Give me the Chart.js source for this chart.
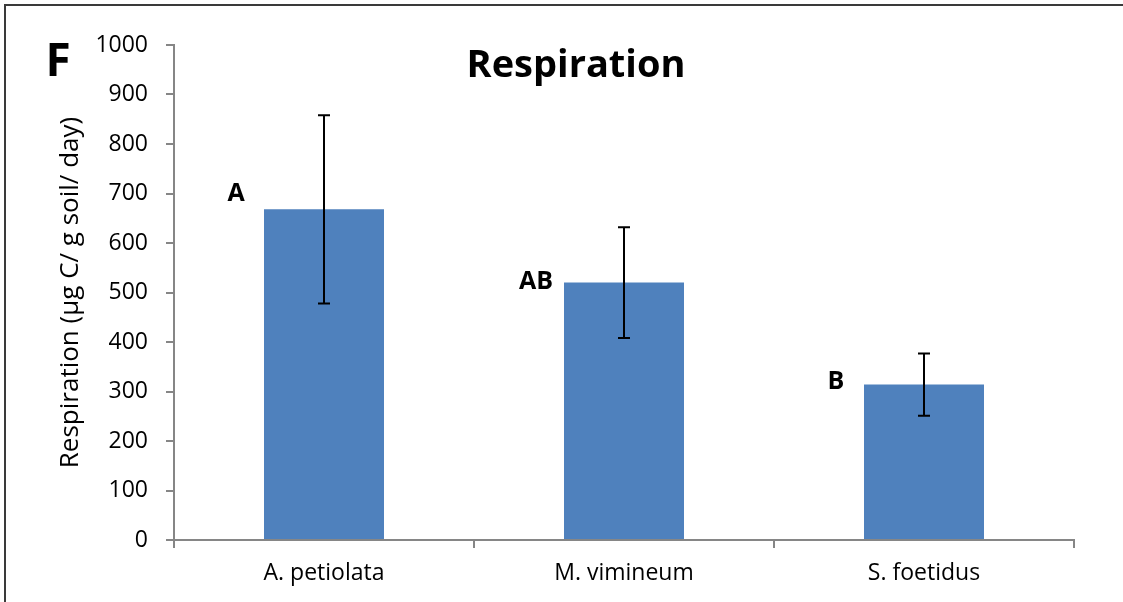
<!DOCTYPE html>
<html>
<head>
<meta charset="utf-8">
<script src="https://cdn.jsdelivr.net/npm/chart.js@4/dist/chart.umd.min.js"></script>
<style>
  html, body { margin: 0; padding: 0; background: #ffffff; }
  #wrap { width: 1123px; height: 602px; position: relative; }
</style>
</head>
<body>
<div id="wrap"><canvas id="chart" width="1123" height="602"></canvas></div>
<script>
// Soil respiration by invasive species (mean ± SE)
const species = ['A. petiolata', 'M. vimineum', 'S. foetidus'];
const respiration = [668, 520, 314];
const respirationSE = [190, 112, 63];
const groupLetters = ['A', 'AB', 'B'];
const groupLetterLevels = [700, 522, 320];
const yTickValues = [0, 100, 200, 300, 400, 500, 600, 700, 800, 900, 1000];
const yTickLabels = ['0', '100', '200', '300', '400', '500', '600', '700', '800', '900', '1000'];
const panelLetter = 'F';
const chartTitle = 'Respiration';
const yAxisTitle = 'Respiration (µg C/ g soil/ day)';

const FONT = '"Open Sans"';
const AXIS_GREY = '#868686';

// Frame, error bars, significance letters, title and panel letter
const decorations = {
  id: 'decorations',
  beforeDraw(chart) {
    const ctx = chart.ctx;
    ctx.save();
    ctx.fillStyle = '#ffffff';
    ctx.fillRect(0, 0, chart.width, chart.height);
    ctx.fillStyle = '#3a3a3a';
    ctx.fillRect(4, 4, chart.width - 4, 2);
    ctx.fillRect(4, 4, 2, chart.height - 4);
    ctx.restore();
  },
  afterDatasetsDraw(chart) {
    const ctx = chart.ctx;
    const y = chart.scales.y;
    const bars = chart.getDatasetMeta(0).data;
    ctx.save();
    // error bars
    ctx.strokeStyle = '#000000';
    ctx.lineWidth = 2;
    bars.forEach((bar, i) => {
      const x = Math.round(bar.x);
      const top = y.getPixelForValue(respiration[i] + respirationSE[i]);
      const bot = y.getPixelForValue(respiration[i] - respirationSE[i]);
      ctx.beginPath();
      ctx.moveTo(x, top); ctx.lineTo(x, bot);
      ctx.moveTo(x - 6, top); ctx.lineTo(x + 6, top);
      ctx.moveTo(x - 6, bot); ctx.lineTo(x + 6, bot);
      ctx.stroke();
    });
    // significance letters
    ctx.fillStyle = '#000000';
    ctx.font = `bold 25px ${FONT}`;
    ctx.textAlign = 'center';
    ctx.textBaseline = 'middle';
    bars.forEach((bar, i) => {
      ctx.fillText(groupLetters[i], bar.x - 88, y.getPixelForValue(groupLetterLevels[i]));
    });
    // title
    ctx.textBaseline = 'alphabetic';
    ctx.font = `bold 38px ${FONT}`;
    ctx.fillText(chartTitle, 576, 77);
    // panel letter
    ctx.font = `bold 46px ${FONT}`;
    ctx.fillText(panelLetter, 58, 76);
    ctx.restore();
  }
};

new Chart(document.getElementById('chart'), {
  type: 'bar',
  data: {
    labels: species,
    datasets: [{
      data: respiration,
      backgroundColor: '#4F81BD',
      borderWidth: 0,
      barPercentage: 0.4,
      categoryPercentage: 1.0
    }]
  },
  options: {
    responsive: false,
    animation: false,
    devicePixelRatio: 1,
    layout: { padding: { left: 0, top: 45, right: 49, bottom: 0 } },
    plugins: {
      legend: { display: false },
      tooltip: { enabled: false },
      title: { display: false }
    },
    scales: {
      x: {
        offset: true,
        grid: { offset: true, drawOnChartArea: false, tickLength: 8, color: AXIS_GREY, lineWidth: 2 },
        border: { color: AXIS_GREY, width: 2 },
        ticks: { font: { family: FONT, size: 23 }, color: '#000000', padding: 12, maxRotation: 0 },
        afterFit(scale) { scale.height = 62; }
      },
      y: {
        min: 0,
        max: 1000,
        afterBuildTicks(scale) { scale.ticks = yTickValues.map(v => ({ value: v })); },
        grid: { drawOnChartArea: false, tickLength: 8, color: AXIS_GREY, lineWidth: 2 },
        border: { color: AXIS_GREY, width: 2 },
        ticks: {
          font: { family: FONT, size: 23 },
          color: '#000000',
          padding: 18,
          callback: (value, index) => yTickLabels[index]
        },
        title: {
          display: true,
          text: yAxisTitle,
          font: { family: FONT, size: 26 },
          color: '#000000',
          padding: { top: 55, bottom: 0 }
        },
        afterFit(scale) { scale.width = 174; }
      }
    }
  },
  plugins: [decorations]
});
</script>
</body>
</html>
